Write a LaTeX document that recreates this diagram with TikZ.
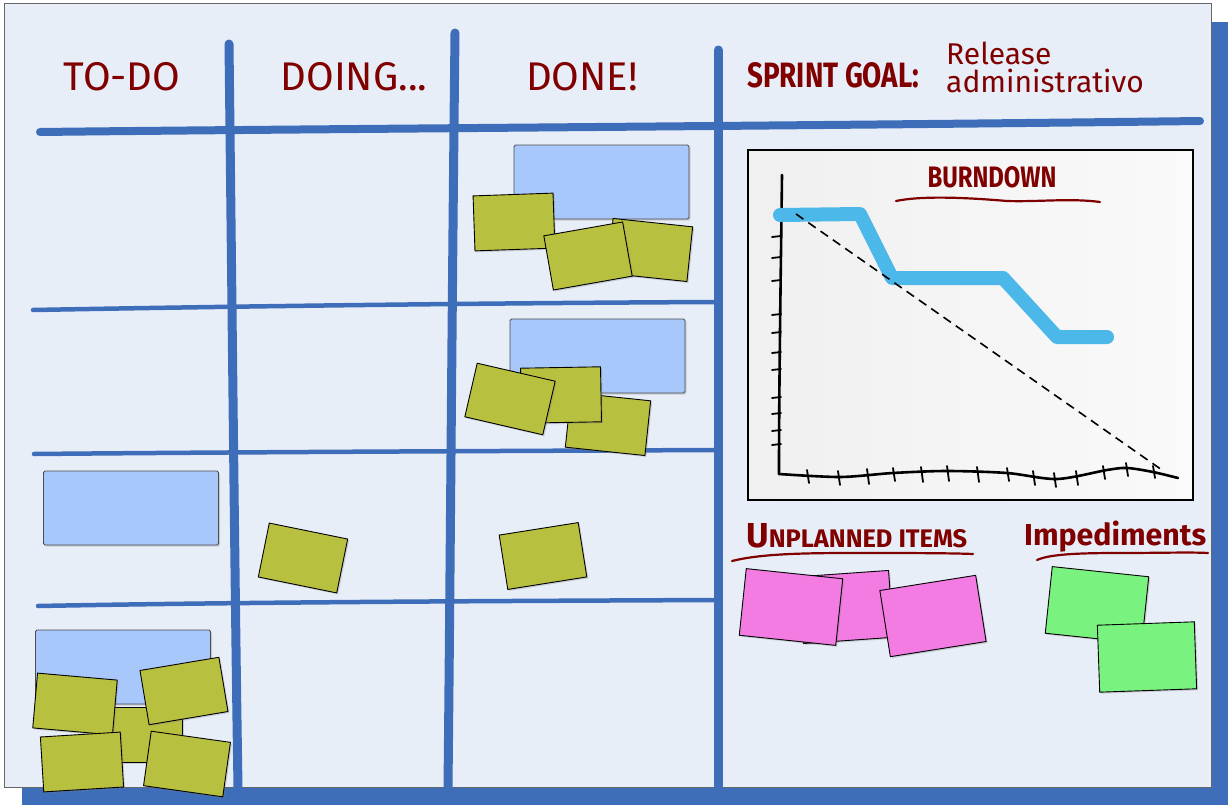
\documentclass[tikz,border=0pt]{standalone}
\usepackage{fontspec}
\setmainfont{Fira Sans}
\usetikzlibrary{shadows}

\definecolor{board}{RGB}{232,238,248}
\definecolor{frame}{RGB}{62,110,186}
\definecolor{ink}{RGB}{128,0,0}
\definecolor{storyblue}{RGB}{168,200,252}
\definecolor{taskolive}{RGB}{184,192,64}
\definecolor{unplannedpink}{RGB}{242,124,226}
\definecolor{blockergreen}{RGB}{122,242,128}
\definecolor{burnblue}{RGB}{76,184,234}

\tikzset{
  card/.style={draw=black, line width=0.9pt, inner sep=0pt,
    drop shadow={shadow xshift=1.5pt, shadow yshift=-1.5pt, opacity=0.3}},
  storycard/.style={card, fill=storyblue, draw=black!70, rounded corners=1.5pt,
    minimum width=175pt, minimum height=74pt},
  taskcard/.style={card, fill=taskolive, minimum width=80pt, minimum height=55pt},
  bignote/.style={card, minimum width=97pt, minimum height=67pt},
  pinknote/.style={bignote, fill=unplannedpink},
  greennote/.style={bignote, fill=blockergreen},
  bigline/.style={frame, line width=9pt, line cap=round},
  rowline/.style={frame, line width=4.5pt, line cap=round},
  head/.style={text=ink, inner sep=0pt, font=\fontsize{40}{40}\selectfont},
  scrawl/.style={ink, line width=2.2pt, line cap=round},
  axis/.style={black, line width=2.6pt, line cap=round, line join=round},
  tick/.style={black, line width=1.8pt, line cap=round}
}

\begin{document}
\begin{tikzpicture}[x=1pt, y=-1pt]
\useasboundingbox (0,0) rectangle (1232,808);

% board with its blue backing
\fill[frame] (22,22) rectangle (1228,805);
\draw[fill=board, draw=black!60, line width=1pt] (4,4) rectangle (1211,787);

% column separators
\draw[bigline] (229,44) .. controls (232,300) and (235,600) .. (238,787);
\draw[bigline] (455,33) .. controls (452,300) and (450,600) .. (448,787);
\draw[bigline] (718,50) -- (718,787);
% header rule
\draw[bigline, line width=8pt] (40,132) .. controls (300,129) and (800,126) .. (1200,121);
% swimlane rules
\draw[rowline] (33,310) .. controls (250,306) and (500,303) .. (716,302);
\draw[rowline] (34,454) .. controls (250,452) and (500,451) .. (716,450);
\draw[rowline] (38,606) .. controls (250,602) and (500,601) .. (716,600);

% column titles
\node[head] (todo) at (122,77) {TO-DO};
\node[head] (doing) at (354,77) {DOING...};
\node[head] (done) at (582,77) {DONE!};
\node[head, anchor=west] (sprint) at (747,75) {\resizebox{172pt}{25pt}{\bfseries SPRINT GOAL:}};
\node[head, anchor=north west, align=left, font=\fontsize{30}{28}\selectfont] (goal) at (946,42)
  {Release\\administrativo};

% burndown chart
\node[draw=black, line width=1.6pt, minimum width=445pt, minimum height=350pt,
      left color=black!6, right color=black!2, inner sep=0pt] (chart) at (970.5,325) {};
\node[head] (burndown) at (992,177) {\resizebox{129pt}{21pt}{\bfseries BURNDOWN}};
\draw[scrawl] (896,201) .. controls (920,196) and (960,197) .. (1007,201)
              .. controls (1040,202) and (1070,198) .. (1100,202);

% axes
\draw[axis] (782,175) .. controls (781,260) and (779,380) .. (779,474);
\draw[axis] plot[smooth] coordinates {(779,474) (840,477) (893,473) (947,471) (1007,473)
  (1057,479) (1107,470) (1127,468) (1153,472) (1178,478)};
\foreach \ty in {236,257,280,314,332,352,369,397,413,430,444}
  \draw[tick] (772,\ty+1) -- (781,\ty);
\foreach \tx/\ta/\tb in {808/470/483, 839/471/485, 868/469/484, 894/468/481, 922/467/482,
  948/466/481, 978/467/482, 1008/468/481, 1034/471/485, 1055/473/487, 1077/471/485,
  1104/466/479, 1127/463/476, 1154/466/478}
  \draw[tick] (\tx-1,\ta) -- (\tx+1,\tb);

% actual and ideal burn lines
\draw[burnblue, line width=14pt, line cap=round, line join=round]
  (780,215) -- (860,214) -- (892,278) -- (1003,278) -- (1057,337) -- (1107,337);
\draw[black, line width=1.6pt, dash pattern=on 9pt off 6pt] (796,214) -- (1162,470);

% side areas
\node[head, anchor=base west] (unplanned) at (746,547)
  {\resizebox{221pt}{!}{\bfseries{\fontsize{30}{30}\selectfont U}{\fontsize{22}{22}\selectfont NPLANNED ITEMS}}};
\draw[scrawl] (732,561) .. controls (760,554) and (800,553) .. (853,553)
              .. controls (900,553) and (950,553) .. (973,554);
\node[head, anchor=base west] (impediments) at (1024,545) {\resizebox{182pt}{!}{\bfseries Impediments}};
\draw[scrawl] (1037,560) .. controls (1050,554) and (1080,553) .. (1120,553)
              .. controls (1160,553) and (1190,552) .. (1208,553);

% DONE, first lane
\node[storycard] (story1) at (601.5,182) {};
\node[taskcard, rotate=-6] (t1b) at (650,250) {};
\node[taskcard, rotate=2] (t1a) at (514,222) {};
\node[taskcard, rotate=10] (t1c) at (588,256) {};

% DONE, second lane
\node[storycard] (story2) at (597.5,356) {};
\node[taskcard, rotate=-6] (t2f) at (608,424) {};
\node[taskcard, rotate=1] (t2e) at (561,395) {};
\node[taskcard, rotate=-13] (t2d) at (510,399) {};

% third lane
\node[storycard] (story3) at (131,508) {};
\node[taskcard, rotate=-11.5] (t3doing) at (303,558) {};
\node[taskcard, rotate=9] (t3done) at (543,556) {};

% fourth lane
\node[storycard] (story4) at (123,667) {};
\node[taskcard] (t4h) at (142,735) {};
\node[taskcard, rotate=-5] (t4g) at (75,704) {};
\node[taskcard, rotate=9.5] (t4i) at (184,691) {};
\node[taskcard, rotate=3.5] (t4j) at (82,762) {};
\node[taskcard, rotate=-8] (t4k) at (187,764) {};

% unplanned items
\node[pinknote, rotate=4, minimum width=90pt] (u2) at (846,607) {};
\node[pinknote, rotate=-6] (u1) at (791,607) {};
\node[pinknote, rotate=9] (u3) at (933,616) {};

% impediments
\node[greennote, rotate=-6] (imp1) at (1097,605) {};
\node[greennote, rotate=2] (imp2) at (1147,657) {};
\end{tikzpicture}
\end{document}
